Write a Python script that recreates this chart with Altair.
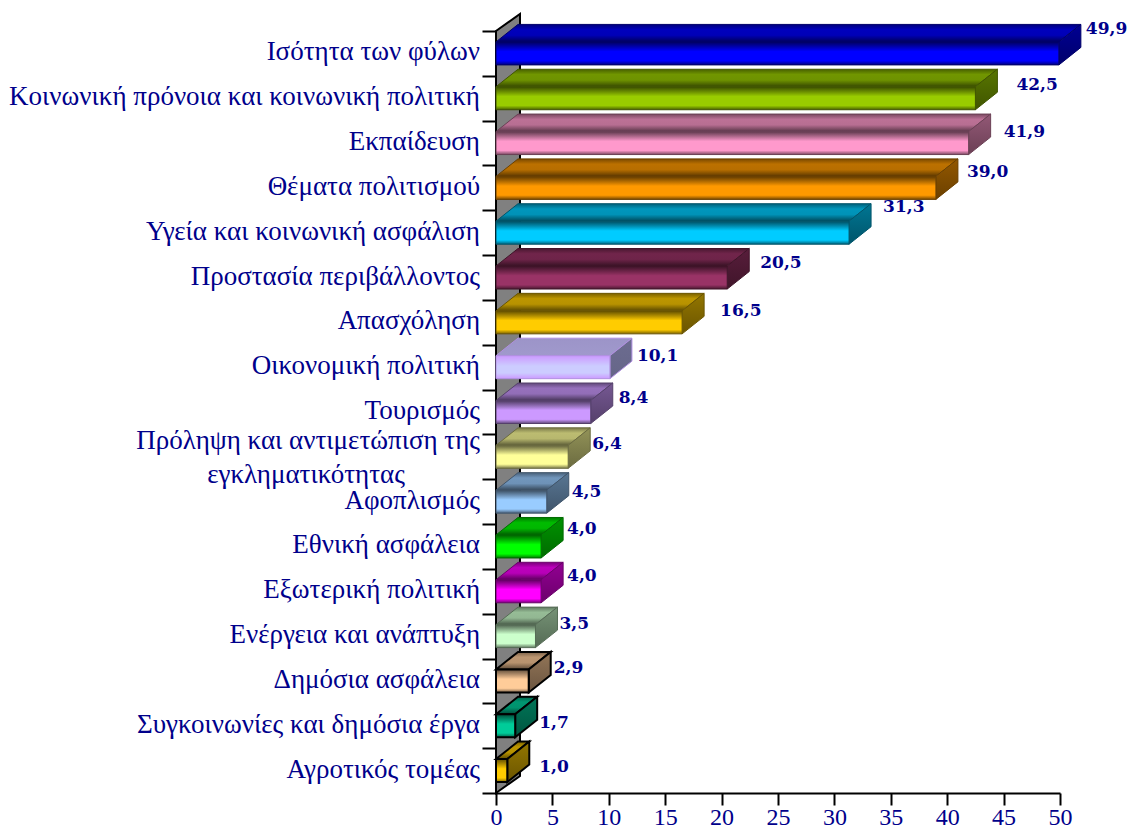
import altair as alt
import pandas as pd

# ---- chart values ------------------------------------------------------
categories = [
    "Ισότητα των φύλων",
    "Κοινωνική πρόνοια και κοινωνική πολιτική",
    "Εκπαίδευση",
    "Θέματα πολιτισμού",
    "Υγεία και κοινωνική ασφάλιση",
    "Προστασία περιβάλλοντος",
    "Απασχόληση",
    "Οικονομική πολιτική",
    "Τουρισμός",
    "Πρόληψη και αντιμετώπιση της",
    "Αφοπλισμός",
    "Εθνική ασφάλεια",
    "Εξωτερική πολιτική",
    "Ενέργεια και ανάπτυξη",
    "Δημόσια ασφάλεια",
    "Συγκοινωνίες και δημόσια έργα",
    "Αγροτικός τομέας",
]
wrapped_line = "εγκληματικότητας"
wrapped_index = 9
values = [49.9, 42.5, 41.9, 39.0, 31.3, 20.5, 16.5, 10.1, 8.4, 6.4, 4.5, 4.0, 4.0, 3.5, 2.9, 1.7, 1.0]
x_ticks = list(range(0, 55, 5))

# ---- styling -----------------------------------------------------------
colors = ["#0000ff", "#99cc00", "#ff99cc", "#ff9900", "#00ccff", "#993366", "#ffcc00", "#ccccff",
          "#cc99ff", "#ffff99", "#99ccff", "#00ff00", "#ff00ff", "#ccffcc", "#ffcc99", "#00cc99", "#ffcc00"]
BLACK_OUTLINE = {14, 15, 16}
SOFT_BAR = 7
label_nudge_x = [5, 19, 13, 9, 12, 11, 16, 5, 6, 2, 3, 4, 4, 2, 3, 2, 10]
label_nudge_y = [-24, -13, -11, -16, -26, -15, -11, -11, -14, -13, -10, -17, -15, -12, -13, -3, -4]

NAVY = "#00008b"
SERIF = "Liberation Serif"
BOLD_SERIF = "DejaVu Serif"

PLOT_W, PLOT_H = 564, 762
N = len(categories)
PX_X = PLOT_W / 50
PX_Y = PLOT_H / N
DX = 22 / PX_X          # bar depth, x units
DY = 17.5 / PX_Y        # bar depth, row units
WALL_DX = 24 / PX_X
WALL_DY = 17 / PX_Y
BAR_H = 23 / PX_Y

x_scale = alt.Scale(domain=[0, 50], nice=False, zero=False)
y_scale = alt.Scale(domain=[0, N], reverse=True, nice=False, zero=False)

x_axis = alt.Axis(
    values=x_ticks, tickSize=12, tickWidth=2, tickColor="black", domainColor="black",
    domainWidth=2, grid=False, labelFont=SERIF, labelFontSize=24, labelColor=NAVY,
    labelPadding=0, labelAngle=0, labelFlush=False, labelOverlap=False, title=None)
y_axis = alt.Axis(
    values=list(range(N + 1)), tickSize=14, tickWidth=2, tickColor="black", domainColor="black",
    domainWidth=2, grid=False, labels=False, title=None)


def shade(hex_color, f):
    r, g, b = (int(hex_color[i:i + 2], 16) for i in (1, 3, 5))
    return "#%02x%02x%02x" % (int(r * f), int(g * f), int(b * f))


def gradient(stops, horizontal=False):
    return {
        "gradient": "linear", "x1": 0, "y1": 0,
        "x2": 1 if horizontal else 0, "y2": 0 if horizontal else 1,
        "stops": [{"offset": o, "color": c} for o, c in stops],
    }


def X(field, **kw):
    return alt.X(field, type="quantitative", scale=x_scale, axis=x_axis, **kw)


def Y(field, **kw):
    return alt.Y(field, type="quantitative", scale=y_scale, axis=y_axis, **kw)


layers = []

# back wall
wall_df = pd.DataFrame({"x": [0, WALL_DX], "y": [N, N - WALL_DY], "y2": [0, -WALL_DY]})
layers.append(
    alt.Chart(wall_df).mark_area(orient="vertical", color="#808080", stroke="black", strokeWidth=2,
                                 strokeJoin="miter").encode(
        x=X("x"), y=Y("y", stack=None), y2="y2"
    )
)

# bars: one front face, top face and side face for each value
for i, (v, c) in enumerate(zip(values, colors)):
    front_top = i + 0.5 - BAR_H / 2
    front_bot = i + 0.5 + BAR_H / 2
    outline = "black" if i in BLACK_OUTLINE else shade(c, 0.42)
    width = 2 if i in BLACK_OUTLINE else 1

    if i == SOFT_BAR:
        front = gradient([(0, "#cc99ff"), (0.45, c), (0.75, c), (1, "#cc99ff")])
        top = gradient([(0, "#9c94c8"), (1, "#a099cc")])
        side = gradient([(0, "#6c6c90"), (1, "#666688")])
        outline = "#b090e0"
    else:
        front = gradient([(0, shade(c, 0.38)), (0.22, shade(c, 0.7)), (0.42, c), (0.82, c), (1, shade(c, 0.48))])
        top = gradient([(0, shade(c, 0.48)), (0.3, shade(c, 0.74)), (0.62, shade(c, 0.72)), (1, shade(c, 0.36))])
        side = gradient([(0, shade(c, 0.58)), (1, shade(c, 0.42))])

    top_df = pd.DataFrame({
        "y": [front_top, front_top - DY], "x": [0, DX], "x2": [v, v + DX],
    })
    layers.append(
        alt.Chart(top_df).mark_area(orient="horizontal", fill=top, stroke=outline, strokeWidth=width).encode(
            y=Y("y"), x=X("x", stack=None), x2="x2"
        )
    )
    side_df = pd.DataFrame({
        "x": [v, v + DX], "y": [front_bot, front_bot - DY], "y2": [front_top, front_top - DY],
    })
    layers.append(
        alt.Chart(side_df).mark_area(orient="vertical", fill=side, stroke=outline, strokeWidth=width).encode(
            x=X("x"), y=Y("y", stack=None), y2="y2"
        )
    )
    front_df = pd.DataFrame({"x": [0], "x2": [v], "y": [front_top], "y2": [front_bot]})
    layers.append(
        alt.Chart(front_df).mark_rect(fill=front, stroke=outline, strokeWidth=width).encode(
            x=X("x"), x2="x2", y=Y("y"), y2="y2"
        )
    )
    # value label
    label_df = pd.DataFrame({"x": [v + DX], "y": [i + 0.5], "t": [f"{v:.1f}".replace(".", ",")]})
    layers.append(
        alt.Chart(label_df).mark_text(
            align="left", baseline="middle", font=BOLD_SERIF, fontWeight="bold", fontSize=17, color=NAVY,
            dx=label_nudge_x[i], dy=label_nudge_y[i],
        ).encode(x=X("x"), y=Y("y"), text="t:N")
    )

# category labels
for i, cat in enumerate(categories):
    dy = -16 if i == wrapped_index else -1
    cat_df = pd.DataFrame({"y": [i + 0.5], "t": [cat]})
    layers.append(
        alt.Chart(cat_df).mark_text(
            align="right", baseline="middle", font=SERIF, fontSize=27, color=NAVY, dy=dy,
        ).encode(x=alt.value(-16), y=Y("y"), text="t:N")
    )
wrap_df = pd.DataFrame({"y": [wrapped_index + 0.5], "t": [wrapped_line]})
layers.append(
    alt.Chart(wrap_df).mark_text(
        align="center", baseline="middle", font=SERIF, fontSize=27, color=NAVY, dy=18,
    ).encode(x=alt.value(-190), y=Y("y"), text="t:N")
)

chart = alt.layer(*layers).properties(
    width=PLOT_W,
    height=PLOT_H,
    autosize=alt.AutoSizeParams(type="none"),
    padding={"left": 488, "top": 23, "right": 70, "bottom": 37},
    background="white",
).configure_view(stroke=None)

chart.save("out.html", embed_options={"renderer": "svg", "actions": False})
